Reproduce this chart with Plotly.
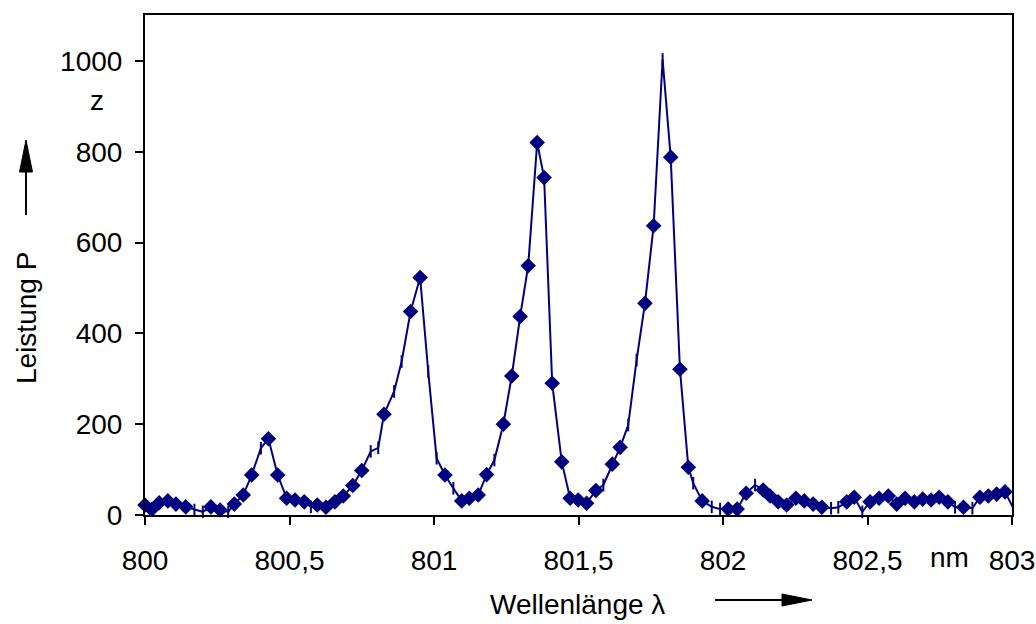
import plotly.graph_objects as go

# Data (wavelength in nm, power P)
wl_diamond = [800.000, 800.023, 800.049, 800.079, 800.107, 800.141, 800.228, 800.260,
              800.309, 800.340, 800.369, 800.427, 800.459, 800.490, 800.519, 800.551,
              800.596, 800.626, 800.657, 800.686, 800.719, 800.750, 800.827, 800.919,
              800.952, 801.038, 801.096, 801.122, 801.153, 801.182, 801.240, 801.269,
              801.298, 801.326, 801.357, 801.381, 801.409, 801.442, 801.471, 801.499,
              801.528, 801.560, 801.617, 801.644, 801.730, 801.760, 801.819, 801.851,
              801.880, 801.928, 802.018, 802.049, 802.080, 802.139, 802.163, 802.191,
              802.220, 802.252, 802.281, 802.312, 802.342, 802.428, 802.454, 802.509,
              802.540, 802.572, 802.601, 802.630, 802.662, 802.691, 802.720, 802.748,
              802.778, 802.832, 802.889, 802.918, 802.947, 802.976]
p_diamond = [22, 12, 27, 31, 24, 18, 18, 11,
             24, 44, 88, 168, 88, 37, 33, 29,
             22, 17, 29, 42, 65, 98, 222, 448,
             523, 88, 31, 37, 44, 89, 200, 306,
             437, 549, 820, 743, 290, 117, 37, 33,
             26, 54, 112, 149, 466, 637, 788, 321,
             105, 31, 13, 13, 48, 55, 42, 29,
             22, 37, 31, 24, 17, 29, 39, 29,
             37, 42, 24, 37, 29, 35, 33, 39,
             29, 17, 39, 42, 46, 51]

wl_tick = [800.171, 800.200, 800.288, 800.401, 800.574, 800.781, 800.807, 800.862,
           800.888, 800.980, 801.009, 801.067, 801.209, 801.586, 801.672, 801.701,
           801.791, 801.897, 801.961, 801.990, 802.111, 802.374, 802.399, 802.482,
           802.803, 802.863]
p_tick = [11, 7, 7, 147, 18, 140, 148, 272,
          338, 316, 125, 59, 121, 66, 198, 341,
          1003, 70, 18, 13, 66, 15, 17, 7,
          17, 15]

wl_end = [803.010]
p_end = [8]

x_tickvals = [800, 800.5, 801, 801.5, 802, 802.5, 803]
x_ticktext = ["800", "800,5", "801", "801,5", "802", "802,5", "803"]
y_tickvals = [0, 200, 400, 600, 800, 1000]

NAVY = "#000080"
FONT = "Liberation Sans"
FS = 28

W, H = 1036, 624
L, R, T, B = 145, 24, 15, 109
PW, PH = W - L - R, H - T - B


def px(xp):
    return (xp - L) / PW


def py(yp):
    return (H - B - yp) / PH


pts = sorted(zip(wl_diamond + wl_tick + wl_end, p_diamond + p_tick + p_end))
line_x = [a for a, _ in pts]
line_y = [b for _, b in pts]

fig = go.Figure()
fig.add_trace(go.Scatter(x=line_x, y=line_y, mode="lines",
                         line=dict(color=NAVY, width=2), hoverinfo="skip"))
fig.add_trace(go.Scatter(x=wl_tick, y=p_tick, mode="markers", cliponaxis=False,
                         marker=dict(symbol="line-ns", size=9, color=NAVY,
                                     line=dict(color=NAVY, width=2))))
fig.add_trace(go.Scatter(x=wl_diamond, y=p_diamond, mode="markers", cliponaxis=False,
                         marker=dict(symbol="diamond", size=12, color=NAVY,
                                     line=dict(width=0))))

axis_common = dict(showgrid=False, zeroline=False, showline=True, linecolor="black",
                   linewidth=2, mirror=True, ticks="outside", ticklen=8, tickwidth=1.5,
                   tickcolor="black", automargin=False,
                   tickfont=dict(family=FONT, size=FS, color="black"))

fig.update_xaxes(range=[800, 803], tickvals=x_tickvals, ticktext=x_ticktext,
                 ticklabelstandoff=11, **axis_common)
fig.update_yaxes(range=[0, 1101], tickvals=y_tickvals, ticklabelstandoff=7,
                 **axis_common)

ann_font = dict(family=FONT, size=FS, color="black")
annotations = [
    dict(x=px(949), y=py(557), text="nm"),
    dict(x=px(97), y=py(100), text="z"),
    dict(x=px(26), y=py(318), text="Leistung P", textangle=-90),
    dict(x=px(577), y=py(604), text="Wellenlänge λ"),
]
for a in annotations:
    a.update(xref="paper", yref="paper", showarrow=False, font=ann_font,
             xanchor="center", yanchor="middle")

shapes = [
    # y-direction arrow
    dict(type="line", xref="paper", yref="paper", x0=px(26), x1=px(26), y0=py(215), y1=py(165),
         line=dict(color="black", width=2)),
    dict(type="path", xref="paper", yref="paper",
         path=f"M {px(26)} {py(140)} L {px(19.5)} {py(172)} L {px(32.5)} {py(172)} Z",
         fillcolor="black", line=dict(color="black", width=1)),
    # x-direction arrow
    dict(type="line", xref="paper", yref="paper", x0=px(715), x1=px(785), y0=py(600), y1=py(600),
         line=dict(color="black", width=2)),
    dict(type="path", xref="paper", yref="paper",
         path=f"M {px(812)} {py(600)} L {px(782)} {py(594)} L {px(782)} {py(606)} Z",
         fillcolor="black", line=dict(color="black", width=1)),
]

fig.update_layout(width=W, height=H, margin=dict(l=L, r=R, t=T, b=B),
                  paper_bgcolor="white", plot_bgcolor="white", showlegend=False,
                  annotations=annotations, shapes=shapes)

fig.write_html("out.html")
